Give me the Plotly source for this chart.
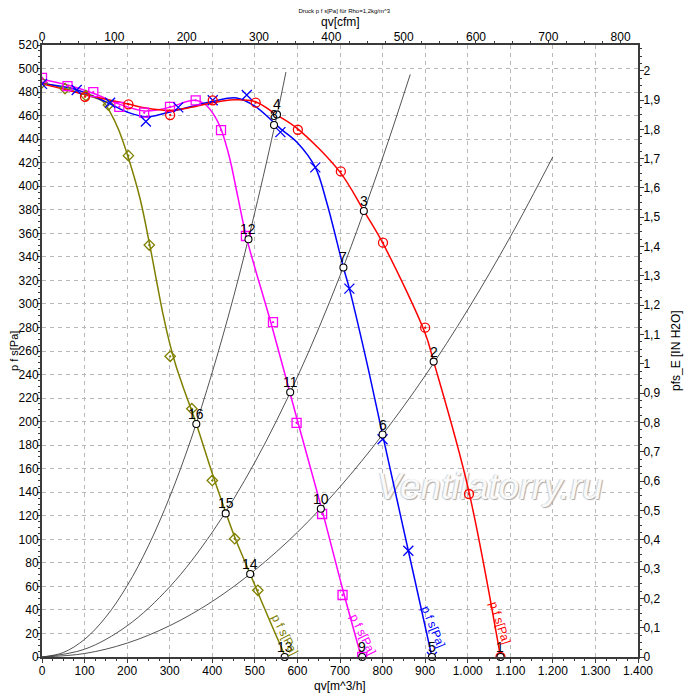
import plotly.graph_objects as go

# ---------------- data ----------------
# fan curves: smooth line points  (q in m^3/h, p in Pa)
olive_line_q = [0, 54, 100, 143, 160, 180, 203, 230, 252, 285, 301, 315, 330, 362.5, 400, 431.5, 452.6, 489, 530, 572]
olive_line_p = [488, 483, 478, 472, 463, 448, 424, 390, 352, 290, 265, 247, 231, 198, 156, 123, 102, 70.5, 35, 0]
olive_mark_q = [0, 54, 103, 156, 203, 252, 301, 352, 400, 452.6, 507]
olive_mark_p = [488, 483, 477, 469, 426, 350, 255.5, 211, 150, 100.5, 56.7]

pink_line_q = [0, 60, 120, 180, 240, 300, 340, 362, 385, 405, 420, 440, 460, 480, 540, 600, 660, 706, 750]
pink_line_p = [491, 486, 479, 470, 464, 467, 472, 473, 469, 460, 449, 425, 391, 357, 281, 201, 122, 58, 0]
pink_mark_q = [0, 60, 120.5, 181.6, 240, 300.7, 361, 420.5, 479, 542.6, 598, 658, 706, 752]
pink_mark_p = [492, 485, 480, 467.5, 462.5, 467.5, 473, 447.7, 357.7, 284.5, 199, 121.5, 52.7, 0]

blue_line_q = [0, 81.5, 160, 200, 246, 320, 400, 457, 500, 560, 600, 642, 669, 708, 722, 760, 800, 860.5, 916]
blue_line_p = [487, 482, 470, 463, 459, 465, 472, 475, 468, 449, 437, 416, 386, 331, 313, 255, 189, 90.3, 0]
blue_mark_q = [0, 81.5, 160, 244, 320, 401, 481, 560, 642, 722, 800, 860.5, 916]
blue_mark_p = [487, 481.7, 471, 455, 467, 473, 477.5, 446, 416, 313, 185, 90.3, 0]

red_line_q = [0, 100, 200, 250, 300, 350, 400, 450, 500, 552, 600, 700, 756, 800, 900, 920, 1000, 1077]
red_line_p = [487, 478, 470, 466, 464.5, 467, 471, 473.5, 472, 460.5, 449, 412, 379, 352, 275, 251, 145, 0]
red_mark_q = [101, 203, 301, 401, 502, 601, 702, 801, 900, 1003, 1077]
red_mark_p = [476, 469.6, 460.5, 473, 471, 448, 412.6, 352, 279.8, 138.5, 0]

# system curves
sysA_q = [0, 50, 100, 150, 200, 250, 300, 350, 400, 450, 500, 550, 573]
sysA_p = [0, 3.8, 15, 34, 60.5, 94.5, 136, 185, 242, 306, 378, 457, 497]
sysB_q = [0, 100, 200, 300, 400, 500, 600, 700, 800, 865]
sysB_p = [0, 6.6, 26.5, 59.6, 106, 165.5, 238, 324, 424, 495]
sysC_q = [0, 100, 200, 300, 400, 500, 600, 700, 800, 900, 1000, 1100, 1200]
sysC_p = [0, 2.95, 11.8, 26.6, 47.2, 73.8, 106, 144.6, 189, 239, 295, 357, 425]

# operating points 1..16
op_labels = [str(i) for i in range(1, 17)]
op_q = [1077, 920, 756, 552, 916, 800, 708, 545, 752, 655, 583, 485, 570, 489, 431.5, 362.5]
op_p = [0, 251, 379, 461, 0, 189, 331, 452, 0, 126, 225, 355, 0, 70.5, 122, 198]

# curve name labels near the free-blow end
curve_label = "p f s[Pa]"
label_q = [571, 755, 919, 1076]
label_p = [19, 19, 25.5, 29]
label_angle = [63, 64, 68, 72]

colors = ["#808000", "#ff00ff", "#0000ff", "#ff0000"]

title_text = "Druck p f s[Pa] für Rho=1,2kg/m^3"
x_title = "qv[m^3/h]"
x2_title = "qv[cfm]"
y_title = "p f s[Pa]"
y2_title = "pfs_E [IN H2O]"
watermark = "Ventilatorry.ru"
watermark_q = [1052]
watermark_p = [142]

X_MAX = 1400
Y_MAX = 520
CFM_PER_M3H = 0.588578
INH2O_PER_PA = 1 / 249.089

FONT = "Liberation Sans, Arial, sans-serif"

fig = go.Figure()

# watermark (below all data)
fig.add_trace(go.Scatter(x=watermark_q, y=watermark_p, mode="text", text=[watermark],
                         textposition="middle center",
                         textfont=dict(family=FONT, size=37, color="#f9f9f9", style="italic",
                                       shadow="1px 1px 1px #a9a9a9, -1px 0px 1px #d0d0d0"),
                         hoverinfo="skip", showlegend=False))

# system curves
for q, p in [(sysA_q, sysA_p), (sysB_q, sysB_p), (sysC_q, sysC_p)]:
    fig.add_trace(go.Scatter(x=q, y=p, mode="lines", line=dict(color="#404040", width=0.9, shape="spline"),
                             hoverinfo="skip", showlegend=False))

# fan curves lines
lines = [(olive_line_q, olive_line_p), (pink_line_q, pink_line_p), (blue_line_q, blue_line_p), (red_line_q, red_line_p)]
for (q, p), c in zip(lines, colors):
    fig.add_trace(go.Scatter(x=q, y=p, mode="lines", line=dict(color=c, width=1.5, shape="spline", smoothing=1.0),
                             hoverinfo="skip", showlegend=False))

# fan curve markers
marks = [
    (olive_mark_q, olive_mark_p, "diamond-open-dot", 8),
    (pink_mark_q, pink_mark_p, "square-open-dot", 9),
    (blue_mark_q, blue_mark_p, "x-thin-open", 10),
    (red_mark_q, red_mark_p, "circle-open-dot", 9),
]
for (q, p, sym, sz), c in zip(marks, colors):
    fig.add_trace(go.Scatter(x=q, y=p, mode="markers",
                             marker=dict(symbol=sym, size=sz, color=c, line=dict(color=c, width=1.3)),
                             hoverinfo="skip", showlegend=False))

# operating points
fig.add_trace(go.Scatter(x=op_q, y=op_p, mode="markers",
                         marker=dict(symbol="circle", size=7, color="white", line=dict(color="black", width=1.1)),
                         cliponaxis=False, hoverinfo="skip", showlegend=False))

# dummy trace to activate secondary axes
fig.add_trace(go.Scatter(x=[], y=[], xaxis="x2", yaxis="y2", mode="markers", showlegend=False, hoverinfo="skip"))

annotations = []
# operating point numbers
for q, p, t in zip(op_q, op_p, op_labels):
    annotations.append(dict(x=q, y=p, xref="x", yref="y", text=t, showarrow=False,
                            xanchor="center", yanchor="middle", yshift=10,
                            font=dict(family=FONT, size=14, color="black")))

for q, p, a, c in zip(label_q, label_p, label_angle, colors):
    annotations.append(dict(x=q, y=p, xref="x", yref="y", text=curve_label, showarrow=False, textangle=a,
                            xanchor="center", yanchor="middle",
                            font=dict(family=FONT, size=12, color=c)))

# axis titles placed explicitly
title_font = dict(family=FONT, size=12, color="black")
annotations.append(dict(x=0, y=0.5, xref="paper", yref="paper", text=y_title, showarrow=False,
                        textangle=-90, xanchor="center", yanchor="middle", xshift=-28,
                        font=dict(family=FONT, size=11, color="black")))
annotations.append(dict(x=1, y=0.5, xref="paper", yref="paper", text=y2_title, showarrow=False,
                        textangle=-90, xanchor="center", yanchor="middle", xshift=38, font=title_font))
annotations.append(dict(x=0.5, y=0, xref="paper", yref="paper", text=x_title, showarrow=False,
                        xanchor="center", yanchor="middle", yshift=-28.5, font=title_font))
annotations.append(dict(x=0.5, y=1, xref="paper", yref="paper", text=x2_title, showarrow=False,
                        xanchor="center", yanchor="middle", yshift=23, font=title_font))

axis_common = dict(showline=True, linecolor="#3a3a3a", linewidth=2, ticks="outside",
                   tickcolor="#3a3a3a", tickfont=dict(family=FONT, size=12, color="black"),
                   zeroline=False, automargin=False)

# the page adds an 8px body margin, so the figure is 692px and margins are shifted accordingly
fig.update_layout(
    width=692, height=692,
    margin=dict(l=34, r=62, t=37, b=43),
    paper_bgcolor="white", plot_bgcolor="white",
    separators=",.",
    font=dict(family=FONT, color="black"),
    title=dict(text=title_text, x=0.486, xanchor="center", y=0.999, yanchor="top", yref="container",
               pad=dict(t=0, b=0), font=dict(family=FONT, size=6, color="black")),
    annotations=annotations,
    xaxis=dict(range=[0, X_MAX], dtick=100, tickformat=",d", showgrid=True, gridcolor="#b8b8b8",
               griddash="4px,4px", gridwidth=1, ticklen=4, ticklabelstandoff=-2,
               minor=dict(ticks="outside", ticklen=2, dtick=25, tickcolor="#3a3a3a", showgrid=False),
               **axis_common),
    yaxis=dict(range=[0, Y_MAX], dtick=20, showgrid=True, gridcolor="#b8b8b8", griddash="4px,4px",
               gridwidth=1, ticklen=3, ticklabelstandoff=-4,
               minor=dict(ticks="outside", ticklen=2, dtick=5, tickcolor="#3a3a3a", showgrid=False),
               **axis_common),
    xaxis2=dict(overlaying="x", side="top", anchor="y", range=[0, X_MAX * CFM_PER_M3H], dtick=100,
                showgrid=False, ticklen=2, ticklabelstandoff=-5,
                minor=dict(ticks="outside", ticklen=2, dtick=25, tickcolor="#3a3a3a", showgrid=False),
                **axis_common),
    yaxis2=dict(overlaying="y", side="right", anchor="x", range=[0, Y_MAX * INH2O_PER_PA], dtick=0.1,
                showgrid=False, ticklen=4, ticklabelstandoff=-3,
                minor=dict(ticks="outside", ticklen=2, dtick=0.025, tickcolor="#3a3a3a", showgrid=False),
                **axis_common),
)

fig.write_html("out.html")
